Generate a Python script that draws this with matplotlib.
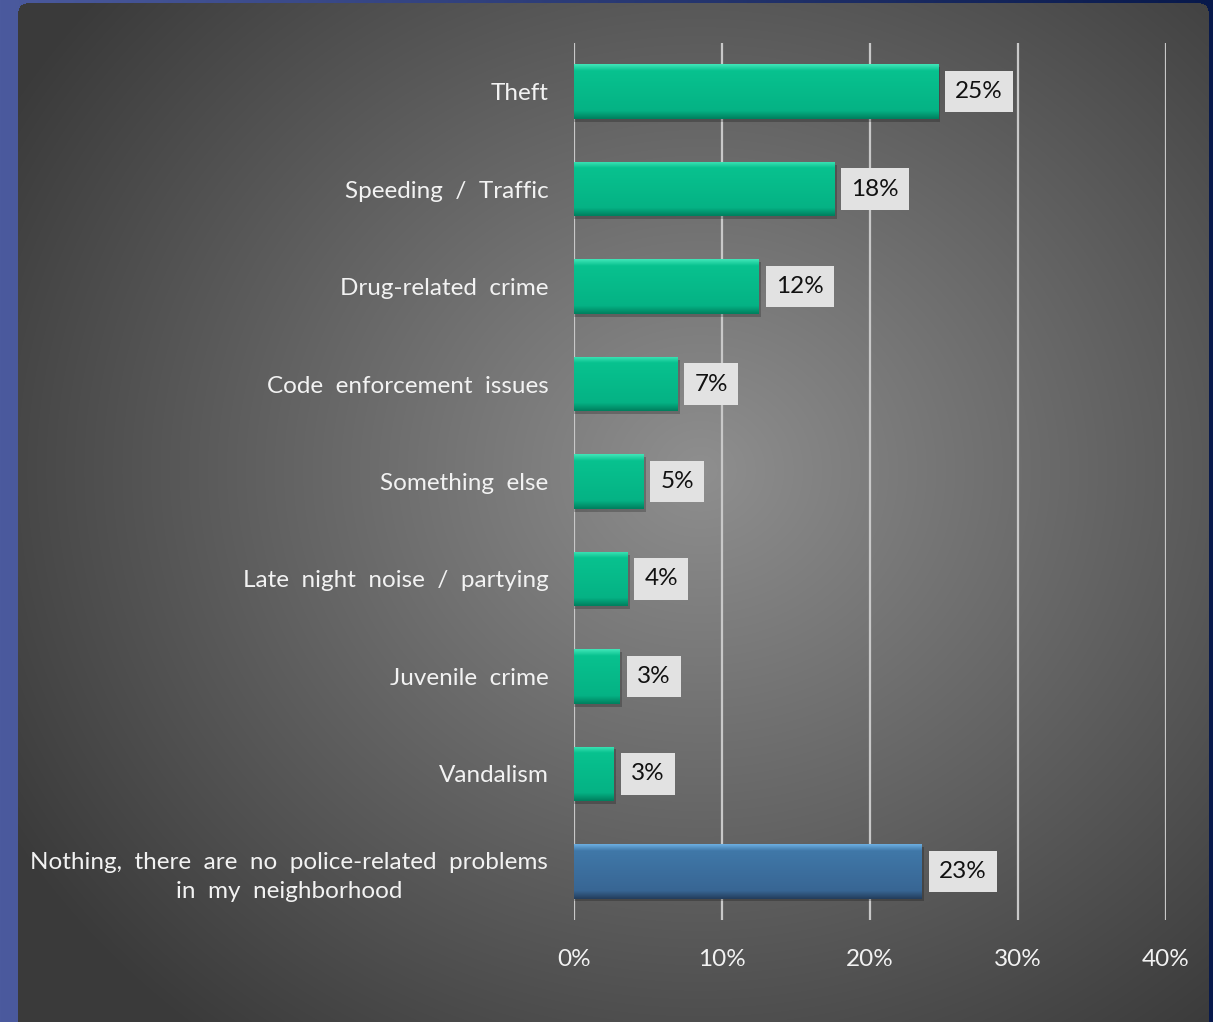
import numpy as np
import matplotlib
matplotlib.use("Agg")
import matplotlib.pyplot as plt
from matplotlib.ticker import FuncFormatter

categories = [
    "Theft",
    "Speeding  /  Traffic",
    "Drug-related  crime",
    "Code  enforcement  issues",
    "Something  else",
    "Late  night  noise  /  partying",
    "Juvenile  crime",
    "Vandalism",
    "Nothing,  there  are  no  police-related  problems\nin  my  neighborhood",
]
values = [24.6, 17.6, 12.5, 7.0, 4.7, 3.6, 3.1, 2.7, 23.5]
value_labels = ["25%", "18%", "12%", "7%", "5%", "4%", "3%", "3%", "23%"]
xticks = [0, 10, 20, 30, 40]

FONT = "Lato"
FS = 17.5
W, H = 1213, 1022
fig = plt.figure(figsize=(W / 100, H / 100), dpi=100)

# ---- background image ----
yy, xx = np.mgrid[0:H, 0:W].astype(float)
t = xx / W
blue_l = np.array([75, 90, 158]) / 255
blue_r = np.array([8, 25, 75]) / 255
img = (1 - t)[..., None] * blue_l + t[..., None] * blue_r
cx, cy = 700, 470
d = np.sqrt(((xx - cx) / 800) ** 2 + ((yy - cy) / 720) ** 2)
d = np.clip(d, 0, 1)
g = (0.56 - 0.33 * d)[..., None] * np.ones(3)
x0, x1, y0 = 18, 1208, 3
r = 8
inside = (xx >= x0) & (xx <= x1) & (yy >= y0)
for ccx in (x0 + r, x1 - r):
    ccy = y0 + r
    side = (xx < x0 + r) if ccx == x0 + r else (xx > x1 - r)
    corner = side & (yy < ccy)
    inside &= ~(corner & ((xx - ccx) ** 2 + (yy - ccy) ** 2 > r ** 2))
img = np.where(inside[..., None], g, img)
bg = fig.add_axes([0, 0, 1, 1])
bg.imshow(img, aspect="auto", extent=[0, W, H, 0], interpolation="bilinear")
bg.set_axis_off()

# ---- main axes ----
left, right = 574 / W, 1166 / W
top, bottom = 1 - 43 / H, 1 - 920 / H
ax = fig.add_axes([left, bottom, right - left, top - bottom])
ax.patch.set_alpha(0)
for s in ax.spines.values():
    s.set_visible(False)

y = np.arange(len(categories))
colors = ["#06b98a"] * 8 + ["#3b6b98"]
bars = ax.barh(y, values, height=0.56, color=colors, edgecolor="none", zorder=3)

teal_grad = [(0.25, 0.90, 0.72), (0.03, 0.76, 0.56), (0.02, 0.70, 0.52), (0.0, 0.50, 0.37)]
blue_grad = [(0.42, 0.68, 0.88), (0.25, 0.47, 0.66), (0.22, 0.40, 0.58), (0.14, 0.24, 0.36)]
for i, b in enumerate(bars):
    cols = blue_grad if i == 8 else teal_grad
    n = 100
    s = np.linspace(0, 1, n)
    stops = np.array([0, 0.12, 0.85, 1.0])
    arr = np.zeros((n, 1, 3))
    for c in range(3):
        arr[:, 0, c] = np.interp(s, stops, [col[c] for col in cols])
    bx, by, bw, bh = b.get_x(), b.get_y(), b.get_width(), b.get_height()
    im = ax.imshow(arr, extent=[bx, bx + bw, by + bh, by], aspect="auto",
                   zorder=4, interpolation="bilinear")
    im.set_clip_path(b)
    ax.barh(y[i] + 0.03, values[i] + 0.15, left=0, height=0.56,
            color="black", alpha=0.22, zorder=2.5)

for i, (v, lab) in enumerate(zip(values, value_labels)):
    ax.text(v + 1.15, y[i], lab, ha="left", va="center", fontsize=FS,
            family=FONT, color="#111111", zorder=6,
            bbox=dict(boxstyle="square,pad=0.42", fc="#e2e2e2", ec="none"))

ax.set_xlim(0, 40)
ax.set_ylim(len(categories) - 0.5, -0.5)
ax.set_xticks(xticks)
ax.xaxis.set_major_formatter(FuncFormatter(lambda v, p: f"{int(v)}%"))
ax.grid(axis="x", color="#c8c8c8", lw=1.6, zorder=1)
ax.set_axisbelow(True)
ax.set_yticks(y)
ax.set_yticklabels(categories)
ax.tick_params(axis="both", length=0, colors="#f2f2f2", labelsize=FS)
ax.tick_params(axis="y", pad=18.5)
ax.tick_params(axis="x", pad=21)
for lbl in ax.get_yticklabels():
    lbl.set_family(FONT)
    lbl.set_multialignment("center")
    lbl.set_linespacing(1.45)
for lbl in ax.get_xticklabels():
    lbl.set_family(FONT)

fig.savefig("out.png", dpi=100)
